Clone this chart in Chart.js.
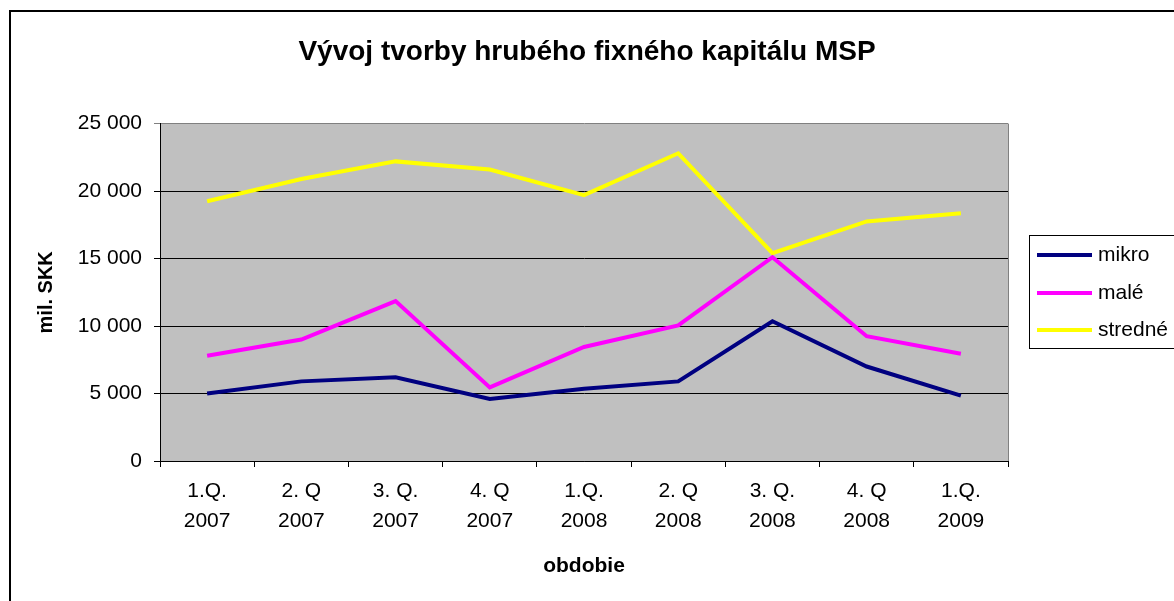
<!DOCTYPE html>
<html>
<head>
<meta charset="utf-8">
<script src="https://cdn.jsdelivr.net/npm/chart.js@4"></script>
<style>
  body { margin: 0; background: #fff; }
  canvas { display: block; }
</style>
</head>
<body>
<canvas id="myChart" width="1174" height="601"></canvas>
<script>
const quarters = [
    ['1.Q.', '2007'], ['2. Q', '2007'], ['3. Q.', '2007'],
    ['4. Q', '2007'], ['1.Q.', '2008'], ['2. Q', '2008'],
    ['3. Q.', '2008'], ['4. Q', '2008'], ['1.Q.', '2009']
];
const mikro   = [5000, 5900, 6200, 4600, 5350, 5900, 10350, 7000, 4850];
const male    = [7800, 9000, 11850, 5450, 8450, 10050, 15100, 9250, 7950];
const stredne = [19250, 20900, 22200, 21600, 19700, 22800, 15400, 17750, 18350];
const yTicks  = [0, 5000, 10000, 15000, 20000, 25000];

const FONT = "'Liberation Sans', Arial, sans-serif";

function fmt(v) {
    return String(v).replace(/\B(?=(\d{3})+(?!\d))/g, ' ');
}

// grey plot area, frame, legend box
const decor = {
    id: 'decor',
    beforeDraw(chart) {
        const ctx = chart.ctx;
        const a = chart.chartArea;
        ctx.save();
        ctx.fillStyle = '#fff';
        ctx.fillRect(0, 0, chart.width, chart.height);
        ctx.strokeStyle = '#000';
        ctx.lineWidth = 2;
        ctx.strokeRect(10, 11, chart.width + 20, chart.height + 20);
        ctx.fillStyle = '#c0c0c0';
        ctx.fillRect(a.left, a.top, a.right - a.left, a.bottom - a.top);
        ctx.restore();
    },
    afterDraw(chart) {
        const ctx = chart.ctx;
        const a = chart.chartArea;
        ctx.save();
        ctx.strokeStyle = '#808080';
        ctx.lineWidth = 1;
        ctx.beginPath();
        ctx.moveTo(a.right + 0.5, a.top);
        ctx.lineTo(a.right + 0.5, a.bottom);
        ctx.stroke();

        // legend
        ctx.strokeStyle = '#000';
        ctx.strokeRect(1029.5, 235.5, 200, 113);
        ctx.font = '21px ' + FONT;
        ctx.textBaseline = 'middle';
        ctx.fillStyle = '#000';
        const ys = [255, 293, 330];
        chart.data.datasets.forEach((ds, i) => {
            ctx.strokeStyle = ds.borderColor;
            ctx.lineWidth = 4;
            ctx.beginPath();
            ctx.moveTo(1037, ys[i]);
            ctx.lineTo(1092, ys[i]);
            ctx.stroke();
            ctx.fillText(ds.label, 1098, ys[i]);
        });
        ctx.restore();
    }
};

const ctx = document.getElementById('myChart').getContext('2d');
const chart = new Chart(ctx, {
    type: 'line',
    data: {
        labels: quarters,
        datasets: [
            { label: 'mikro', data: mikro, borderColor: '#000080' },
            { label: 'malé', data: male, borderColor: '#ff00ff' },
            { label: 'stredné', data: stredne, borderColor: '#ffff00' }
        ]
    },
    options: {
        responsive: false,
        animation: false,
        devicePixelRatio: 1,
        layout: { padding: 0 },
        elements: {
            line: { borderWidth: 4, tension: 0 },
            point: { radius: 0 }
        },
        plugins: {
            legend: { display: false },
            tooltip: { enabled: false },
            title: {
                display: true,
                text: 'Vývoj tvorby hrubého fixného kapitálu MSP',
                color: '#000',
                font: { family: FONT, size: 28, weight: 'bold', lineHeight: 1.2 },
                padding: { top: 35, bottom: 55 }
            }
        },
        scales: {
            x: {
                offset: true,
                afterFit(scale) { scale.height = 140; },
                grid: {
                    offset: true,
                    drawOnChartArea: false,
                    tickLength: 6,
                    color: '#000'
                },
                border: { color: '#000', width: 1 },
                ticks: {
                    color: '#000',
                    padding: 10,
                    maxRotation: 0,
                    font: { family: FONT, size: 21, lineHeight: 1.4 }
                },
                title: {
                    display: true,
                    text: 'obdobie',
                    color: '#000',
                    font: { family: FONT, size: 21, weight: 'bold', lineHeight: 1.2 },
                    padding: { top: 0, bottom: 22 }
                }
            },
            y: {
                min: 0,
                max: 25000,
                afterFit(scale) { scale.width = 160; },
                afterBuildTicks(scale) { scale.ticks = yTicks.map(v => ({ value: v })); },
                grid: {
                    tickLength: 6,
                    color: c => (c.tick && c.tick.value === 25000) ? '#808080' : '#000'
                },
                border: { color: '#000', width: 1 },
                ticks: {
                    color: '#000',
                    padding: 12,
                    font: { family: FONT, size: 21 },
                    callback: v => fmt(v)
                },
                title: {
                    display: true,
                    text: 'mil. SKK',
                    color: '#000',
                    font: { family: FONT, size: 20, weight: 'bold', lineHeight: 1.2 },
                    padding: { top: 34, bottom: 0 }
                }
            },
            // empty right-hand strip that holds the legend area
            side: {
                type: 'linear',
                position: 'right',
                afterFit(scale) { scale.width = 166; },
                grid: { display: false },
                border: { display: false },
                ticks: { display: false }
            }
        }
    },
    plugins: [decor]
});
</script>
</body>
</html>
